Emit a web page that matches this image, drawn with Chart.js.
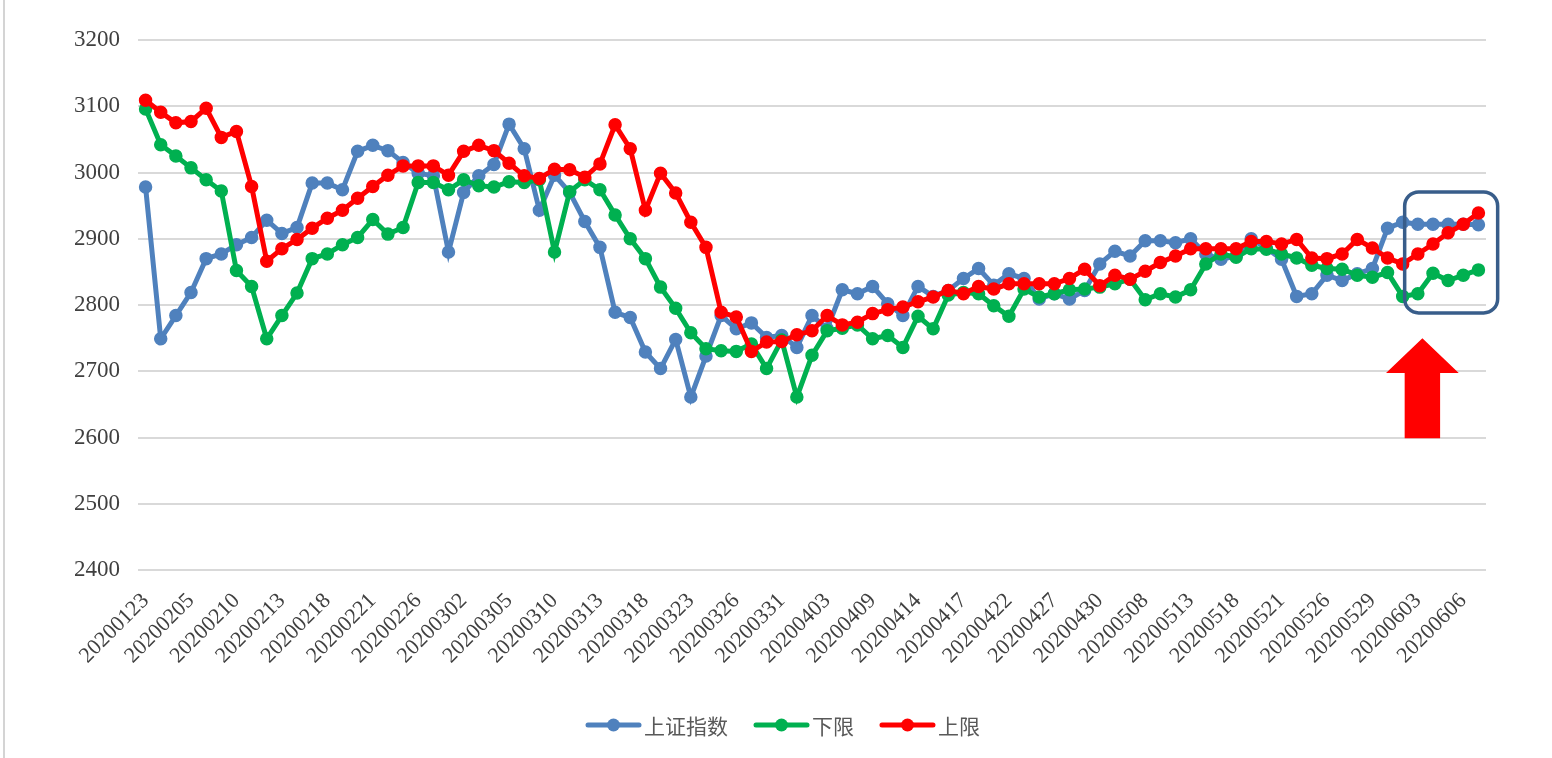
<!DOCTYPE html>
<html>
<head>
<meta charset="utf-8">
<script src="https://cdn.jsdelivr.net/npm/chart.js@4.4.0/dist/chart.umd.min.js"></script>
<style>
  html, body { margin: 0; padding: 0; background: #fff; }
  #wrap { width: 1552px; height: 758px; position: relative; }
</style>
</head>
<body>
<div id="wrap"><canvas id="chart" width="1552" height="758"></canvas></div>
<script>
// trading days shown on the category axis (every 3rd one is labelled)
const dates = [
  '20200123', '20200203', '20200204', '20200205', '20200206', '20200207', '20200210',
  '20200211', '20200212', '20200213', '20200214', '20200217', '20200218', '20200219',
  '20200220', '20200221', '20200224', '20200225', '20200226', '20200227', '20200228',
  '20200302', '20200303', '20200304', '20200305', '20200306', '20200309', '20200310',
  '20200311', '20200312', '20200313', '20200316', '20200317', '20200318', '20200319',
  '20200320', '20200323', '20200324', '20200325', '20200326', '20200327', '20200330',
  '20200331', '20200401', '20200402', '20200403', '20200407', '20200408', '20200409',
  '20200410', '20200413', '20200414', '20200415', '20200416', '20200417', '20200420',
  '20200421', '20200422', '20200423', '20200424', '20200427', '20200428', '20200429',
  '20200430', '20200506', '20200507', '20200508', '20200511', '20200512', '20200513',
  '20200514', '20200515', '20200518', '20200519', '20200520', '20200521', '20200522',
  '20200525', '20200526', '20200527', '20200528', '20200529', '20200601', '20200602',
  '20200603', '20200604', '20200605', '20200606', '20200607'
];

const shIndex = [
  2978, 2749, 2784, 2819, 2870, 2877, 2891, 2902, 2928, 2908, 2917, 2984, 2984, 2974,
  3032, 3041, 3033, 3015, 2999, 2995, 2880, 2970, 2995, 3012, 3073, 3036, 2943, 2996,
  2970, 2926, 2887, 2789, 2781, 2729, 2704, 2748, 2661, 2723, 2784, 2764, 2773, 2751,
  2754, 2736, 2784, 2764, 2823, 2817, 2828, 2802, 2784, 2828, 2813, 2822, 2840, 2855,
  2830, 2847, 2840, 2809, 2817, 2809, 2822, 2862, 2881, 2874, 2897, 2897, 2894, 2900,
  2877, 2869, 2874, 2900, 2886, 2869, 2813, 2817, 2845, 2837, 2847, 2855, 2916, 2925,
  2922, 2922, 2922, 2922, 2921
];

const lowerBand = [
  3096, 3042, 3025, 3007, 2989, 2972, 2852, 2828, 2749, 2784, 2818, 2870, 2877, 2891,
  2902, 2929, 2907, 2917, 2985, 2985, 2974, 2989, 2980, 2978, 2986, 2985, 2989, 2880,
  2971, 2989, 2974, 2936, 2900, 2870, 2827, 2795, 2758, 2734, 2731, 2730, 2741, 2704,
  2747, 2661, 2724, 2761, 2765, 2770, 2749, 2754, 2736, 2783, 2764, 2815, 2819, 2817,
  2799, 2783, 2824, 2812, 2817, 2823, 2824, 2827, 2832, 2839, 2808, 2817, 2812, 2823,
  2862, 2877, 2872, 2885, 2884, 2877, 2871, 2860, 2855, 2854, 2845, 2842, 2849, 2813,
  2817, 2848, 2837, 2845, 2853
];

const upperBand = [
  3109, 3091, 3075, 3077, 3097, 3053, 3062, 2979, 2866, 2885, 2899, 2916, 2931, 2943,
  2961, 2979, 2996, 3010, 3010, 3010, 2996, 3032, 3041, 3033, 3014, 2995, 2991, 3005,
  3004, 2993, 3013, 3072, 3036, 2943, 2999, 2969, 2925, 2887, 2789, 2782, 2730, 2744,
  2745, 2755, 2761, 2784, 2770, 2774, 2787, 2793, 2797, 2805, 2812, 2822, 2817, 2828,
  2824, 2832, 2832, 2832, 2832, 2840, 2854, 2829, 2845, 2839, 2851, 2864, 2874, 2885,
  2885, 2885, 2885, 2896, 2896, 2892, 2899, 2871, 2870, 2877, 2899, 2886, 2871, 2862,
  2877, 2892, 2909, 2922, 2939
];

const yTicks = [2400, 2500, 2600, 2700, 2800, 2900, 3000, 3100, 3200];

const seriesNames = ['上证指数', '下限', '上限'];
const seriesColors = ['#4F81BD', '#00B050', '#FF0000'];

// highlight box + arrow near the end, placed in data units
const highlightBox = { x0: 83.13, x1: 89.27, y0: 2788, y1: 2970.6 };
const arrow = { tipX: 84.3, tipY: 2750, halfHead: 2.4, halfShaft: 1.17, headBase: 2697.4, shaftEnd: 2599 };

const serif = '"Liberation Serif", "DejaVu Serif", serif';

const sideLinePlugin = {
  id: 'sideLine',
  beforeDraw(chart) {
    const ctx = chart.ctx;
    ctx.save();
    ctx.fillStyle = '#fff';
    ctx.fillRect(0, 0, chart.width, chart.height);
    ctx.strokeStyle = '#d4d4d4';
    ctx.lineWidth = 2;
    ctx.beginPath();
    ctx.moveTo(4, 0);
    ctx.lineTo(4, chart.height);
    ctx.stroke();
    ctx.restore();
  }
};

const markPlugin = {
  id: 'marks',
  afterDatasetsDraw(chart) {
    const ctx = chart.ctx;
    const xs = chart.scales.x, ys = chart.scales.y;
    ctx.save();
    // rounded box
    const bx0 = xs.getPixelForValue(highlightBox.x0);
    const bx1 = xs.getPixelForValue(highlightBox.x1);
    const by0 = ys.getPixelForValue(highlightBox.y1);
    const by1 = ys.getPixelForValue(highlightBox.y0);
    ctx.strokeStyle = '#385D8A';
    ctx.lineWidth = 3.5;
    ctx.beginPath();
    ctx.roundRect(bx0, by0, bx1 - bx0, by1 - by0, 14);
    ctx.stroke();
    // arrow
    const tx = xs.getPixelForValue(arrow.tipX);
    const ty = ys.getPixelForValue(arrow.tipY);
    const hl = xs.getPixelForValue(arrow.tipX - arrow.halfHead);
    const hr = xs.getPixelForValue(arrow.tipX + arrow.halfHead);
    const sl = xs.getPixelForValue(arrow.tipX - arrow.halfShaft);
    const sr = xs.getPixelForValue(arrow.tipX + arrow.halfShaft);
    const hb = ys.getPixelForValue(arrow.headBase);
    const sb = ys.getPixelForValue(arrow.shaftEnd);
    ctx.fillStyle = '#FF0000';
    ctx.beginPath();
    ctx.moveTo(tx, ty);
    ctx.lineTo(hr, hb);
    ctx.lineTo(sr, hb);
    ctx.lineTo(sr, sb);
    ctx.lineTo(sl, sb);
    ctx.lineTo(sl, hb);
    ctx.lineTo(hl, hb);
    ctx.closePath();
    ctx.fill();
    ctx.restore();
  }
};

const legendPlugin = {
  id: 'bottomLegend',
  afterDraw(chart) {
    const ctx = chart.ctx;
    const sets = chart.data.datasets;
    ctx.save();
    ctx.font = '21px "Noto Sans CJK SC", sans-serif';
    const lineLen = 55, gap = 3, spacing = 26;
    const widths = sets.map(d => lineLen + gap + ctx.measureText(d.label).width);
    const total = widths.reduce((a, b) => a + b, 0) + spacing * (sets.length - 1);
    let x = 783 - total / 2;
    const y = 725;
    sets.forEach((d, i) => {
      ctx.strokeStyle = d.borderColor;
      ctx.fillStyle = d.borderColor;
      ctx.lineWidth = 5;
      ctx.lineCap = 'round';
      ctx.beginPath();
      ctx.moveTo(x + 2, y);
      ctx.lineTo(x + lineLen - 2, y);
      ctx.stroke();
      ctx.beginPath();
      ctx.arc(x + lineLen / 2, y, 6.5, 0, Math.PI * 2);
      ctx.fill();
      ctx.fillStyle = '#595959';
      ctx.textBaseline = 'middle';
      ctx.fillText(d.label, x + lineLen + gap, y + 1);
      x += widths[i] + spacing;
    });
    ctx.restore();
  }
};

function makeSet(i, data) {
  return {
    label: seriesNames[i],
    data: data,
    borderColor: seriesColors[i],
    backgroundColor: seriesColors[i],
    pointBackgroundColor: seriesColors[i],
    pointBorderColor: seriesColors[i],
    borderWidth: 5,
    pointRadius: 6,
    pointBorderWidth: 1.5,
    pointHoverRadius: 6,
    tension: 0,
    order: 3 - i
  };
}

new Chart(document.getElementById('chart'), {
  type: 'line',
  data: {
    labels: dates,
    datasets: [makeSet(0, shIndex), makeSet(1, lowerBand), makeSet(2, upperBand)]
  },
  options: {
    responsive: false,
    animation: false,
    layout: { padding: { left: 0, top: 40, right: 66, bottom: 0 } },
    plugins: { legend: { display: false }, tooltip: { enabled: false } },
    scales: {
      x: {
        offset: true,
        grid: { display: false },
        border: { display: false },
        ticks: {
          autoSkip: false,
          minRotation: 45,
          maxRotation: 45,
          padding: 10,
          color: '#404040',
          font: { family: serif, size: 22 },
          callback: (v, i) => (i % 3 === 0 ? dates[i] : '')
        },
        afterFit: s => { s.height = 188; }
      },
      y: {
        min: 2400,
        max: 3200,
        afterBuildTicks: s => { s.ticks = yTicks.map(v => ({ value: v })); },
        grid: { color: '#d9d9d9', lineWidth: 2, drawTicks: false },
        border: { display: false },
        ticks: {
          color: '#404040',
          font: { family: serif, size: 23 },
          padding: 18,
          callback: v => String(v)
        },
        afterFit: s => { s.width = 138; }
      }
    }
  },
  plugins: [sideLinePlugin, markPlugin, legendPlugin]
});
</script>
</body>
</html>
